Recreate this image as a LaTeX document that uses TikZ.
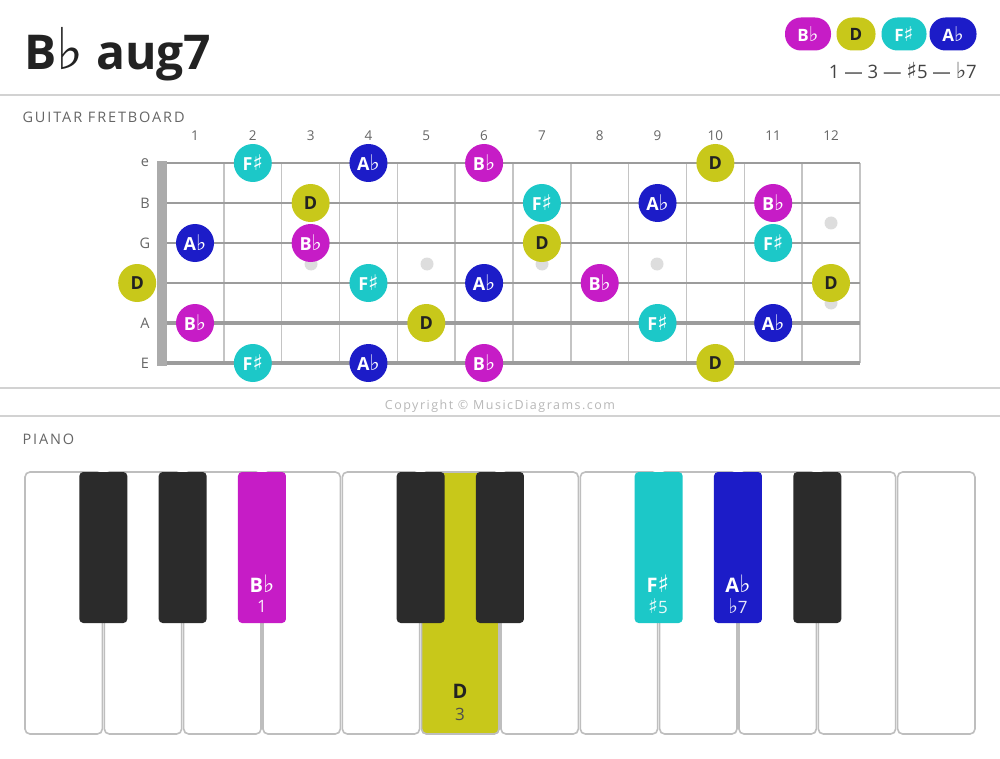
\documentclass[tikz,border=0pt]{standalone}
\usepackage{fontspec}
\setmainfont{Open Sans}
\newfontfamily\symfont{DejaVu Sans}[Scale=1.2]
\newcommand{\flatsym}{{\symfont\char"266D}}
\newcommand{\sharpsym}{{\symfont\char"266F}}
\definecolor{cbb}{HTML}{C61CC6}
\definecolor{cd}{HTML}{C8C81A}
\definecolor{cfs}{HTML}{1CC8C8}
\definecolor{cab}{HTML}{1C1CC8}
\definecolor{sepgray}{HTML}{D2D2D2}
\definecolor{strgray}{HTML}{9C9C9C}
\definecolor{fretgray}{HTML}{C4C4C4}
\definecolor{labgray}{HTML}{666666}
\definecolor{blackkey}{HTML}{2B2B2B}
\definecolor{keyedge}{HTML}{BEBEBE}
\definecolor{dotgray}{HTML}{DDDDDD}
\definecolor{inkdark}{HTML}{222222}
\begin{document}
\begin{tikzpicture}[x=1pt,y=-1pt,
    sep/.style={draw=sepgray,line width=2pt},
    note/.style={circle,minimum size=38pt,inner sep=0pt,font=\bfseries\fontsize{18}{18}\selectfont},
    bb/.style={note,fill=cbb,text=white},
    dd/.style={note,fill=cd,text=inkdark},
    fs/.style={note,fill=cfs,text=white},
    ab/.style={note,fill=cab,text=white},
    pill/.style={rounded corners=16pt,minimum height=33pt,inner sep=0pt,font=\bfseries\fontsize{17}{17}\selectfont},
    fretnum/.style={text=labgray,font=\fontsize{13.5}{13.5}\selectfont},
    strlab/.style={text=labgray,font=\fontsize{14.5}{14.5}\selectfont},
    heading/.style={anchor=west,text=labgray,font=\fontsize{14.5}{14.5}\selectfont\addfontfeatures{LetterSpace=13}},
    whitekey/.style={draw=keyedge,line width=1.6pt,fill=white,rounded corners=5pt},
    blackkeybox/.style={fill=blackkey,rounded corners=4pt},
    keyname/.style={font=\bfseries\fontsize{20}{20}\selectfont},
    keydeg/.style={font=\fontsize{17}{17}\selectfont}]
\useasboundingbox (0,0) rectangle (1000,759);
\fill[white] (0,0) rectangle (1000,759);

% header
\node[anchor=base west,text=inkdark,font=\bfseries\fontsize{48}{48}\selectfont,inner sep=0pt] (title) at (24,70) {B\flatsym\ aug7};
\node[pill,fill=cbb,text=white,minimum width=46pt] (lbb) at (808,34) {B\flatsym};
\node[pill,fill=cd,text=inkdark,minimum width=39pt] (ld) at (856,34) {D};
\node[pill,fill=cfs,text=white,minimum width=45pt] (lfs) at (904,34) {F\sharpsym};
\node[pill,fill=cab,text=white,minimum width=47pt] (lab) at (953,34) {A\flatsym};
\node[anchor=east,text=inkdark!85,font=\fontsize{18.5}{18.5}\selectfont,inner sep=0pt] (formula) at (977,70) {1 — 3 — \sharpsym5 — \flatsym7};
\draw[sep] (0,95) -- (1000,95);

% fretboard
\node[heading] (guitar) at (19,117) {GUITAR FRETBOARD};
\foreach \f in {1,...,12}
    \node[fretnum] (fn\f) at ({195+(\f-1)*57.82},136) {\f};
\foreach \f in {1,...,12}
    \draw[fretgray,line width=1.5pt] ({195+(\f-0.5)*57.82},163) -- ({195+(\f-0.5)*57.82},363);
\foreach \x/\y in {311/264,427/264,542/264,657/264,831/223,831/303}
    \fill[dotgray] (\x,\y) circle (6.5pt);
\foreach \s/\y/\w in {e/163/1.6,B/203/1.9,G/243/2.3,D/283/2.7,A/323/3.1,E/363/3.6}
    \draw[strgray,line width=\w pt] (160,\y) -- (860,\y);
\foreach \s/\y in {e/163,B/203,G/243,A/323,E/363}
    \node[strlab] (lab\s) at (145,\y) {\s};
\fill[strgray!85] (157,161) rectangle (167,366);
\foreach \s/\y/\f/\st/\nm in {
    e/163/2/fs/F\sharpsym, e/163/4/ab/A\flatsym, e/163/6/bb/B\flatsym, e/163/10/dd/D,
    B/203/3/dd/D, B/203/7/fs/F\sharpsym, B/203/9/ab/A\flatsym, B/203/11/bb/B\flatsym,
    G/243/1/ab/A\flatsym, G/243/3/bb/B\flatsym, G/243/7/dd/D, G/243/11/fs/F\sharpsym,
    D/283/0/dd/D, D/283/4/fs/F\sharpsym, D/283/6/ab/A\flatsym, D/283/8/bb/B\flatsym, D/283/12/dd/D,
    A/323/1/bb/B\flatsym, A/323/5/dd/D, A/323/9/fs/F\sharpsym, A/323/11/ab/A\flatsym,
    E/363/2/fs/F\sharpsym, E/363/4/ab/A\flatsym, E/363/6/bb/B\flatsym, E/363/10/dd/D}
    \node[\st] (\s-\f) at ({195+(\f-1)*57.82},\y) {\nm};
\draw[sep] (0,388) -- (1000,388);
\node[text=black!28,font=\fontsize{12.5}{12.5}\selectfont\addfontfeatures{LetterSpace=12}] (copy) at (500,406) {Copyright © MusicDiagrams.com};
\draw[sep] (0,416) -- (1000,416);

% piano
\node[heading] (piano) at (19,439) {PIANO};
\foreach \k in {0,...,11}
    \draw[whitekey] ({25+\k*79.33},472) rectangle ({24+(\k+1)*79.33-1},734);
\draw[whitekey,fill=cd] ({25+5*79.33},472) rectangle ({24+6*79.33-1},734);
\foreach \k in {1,2,5,6,10}
    \fill[blackkeybox] ({24+\k*79.33-24},472) rectangle ({24+\k*79.33+24},623);
\fill[blackkeybox,fill=cbb] ({24+3*79.33-24},472) rectangle ({24+3*79.33+24},623);
\fill[blackkeybox,fill=cfs] ({24+8*79.33-24},472) rectangle ({24+8*79.33+24},623);
\fill[blackkeybox,fill=cab] ({24+9*79.33-24},472) rectangle ({24+9*79.33+24},623);
\node[keyname,text=white] (kbb) at (262,584) {B\flatsym};
\node[keydeg,text=white!90!cbb] (kbb1) at (262,606) {1};
\node[keyname,text=inkdark] (kd) at (460,691) {D};
\node[keydeg,text=inkdark!80] (kd3) at (460,714) {3};
\node[keyname,text=white] (kfs) at (658,584) {F\sharpsym};
\node[keydeg,text=white!90!cfs] (kfs5) at (658,606) {\sharpsym5};
\node[keyname,text=white] (kab) at (738,584) {A\flatsym};
\node[keydeg,text=white!90!cab] (kab7) at (738,606) {\flatsym7};
\end{tikzpicture}
\end{document}
